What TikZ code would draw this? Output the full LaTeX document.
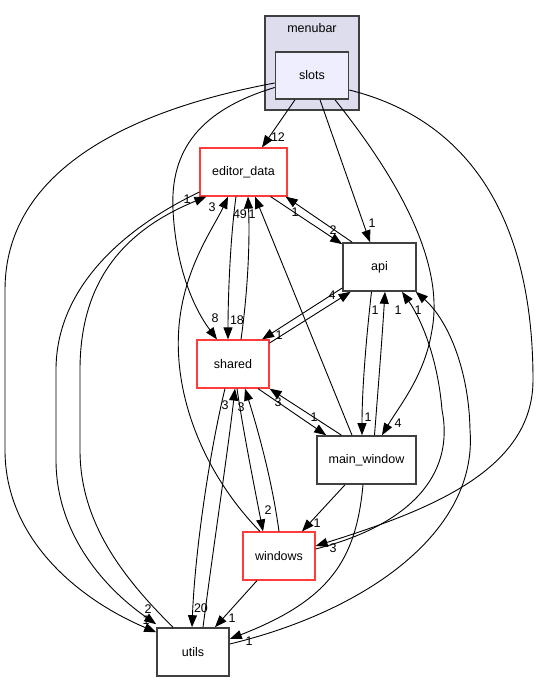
\documentclass[tikz,border=0pt]{standalone}
\usepackage{fontspec}
\setmainfont{Liberation Sans}
\usetikzlibrary{arrows.meta}
\definecolor{clusterfill}{HTML}{DDDDEE}
\definecolor{slotsfill}{HTML}{EEEEFF}
\definecolor{frame}{HTML}{404040}
\definecolor{truncred}{HTML}{FF3C3C}
\begin{document}
\begin{tikzpicture}[x=1pt,y=-1pt,
  font=\fontsize{12.5}{15}\selectfont,
  dirbox/.style={draw=frame,line width=1.6pt,fill=white,minimum width=#1,minimum height=48pt,inner sep=0pt},
  truncbox/.style={draw=truncred,line width=1.2pt,fill=white,minimum width=#1,minimum height=48pt,inner sep=0pt},
  dep/.style={-{Triangle[length=12pt,width=9pt]},line width=0.9pt},
  lbl/.style={inner sep=0pt}]
  \useasboundingbox (0,0) rectangle (539,681);

  %menubar cluster
  \node[draw=frame,line width=1.2pt,fill=clusterfill,minimum width=94pt,minimum height=94pt,inner sep=0pt] (menubar) at (312,63) {};
  \node (menubartitle) at (312,28) {menubar};
  \node[draw=frame,line width=1.6pt,fill=slotsfill,minimum width=73pt,minimum height=47pt,inner sep=0pt] (slots) at (312,75.5) {slots};

  %Directories
  \node[truncbox=87pt] (editordata) at (243.5,172) {editor\_data};
  \node[dirbox=73pt] (api) at (379.5,267) {api};
  \node[truncbox=72pt] (shared) at (233,364) {shared};
  \node[dirbox=99pt] (mainwindow) at (366.5,460) {main\_window};
  \node[truncbox=72pt] (windows) at (279,556) {windows};
  \node[dirbox=72pt] (utils) at (193,652) {utils};

  %From slots
  \draw[dep] ([xshift=-17pt]slots.south) -- ([xshift=18.5pt]editordata.north);
  \node[lbl] (l-slots-ed) at (278,137) {12};
  \draw[dep] ([xshift=8pt]slots.south) -- ([xshift=-9.5pt]api.north);
  \node[lbl] (l-slots-api) at (372,223) {1};
  \draw[dep] ([xshift=23pt]slots.south) .. controls (395,175) and (445,260) .. (432,330)
    .. controls (425,375) and (400,405) .. ([xshift=15.5pt]mainwindow.north);
  \node[lbl] (l-slots-mw) at (398,423) {4};
  \draw[dep] ([yshift=-14.5pt]slots.east) .. controls (470,120) and (533,220) .. (533,380)
    .. controls (533,470) and (430,510) .. ([yshift=10pt]windows.east);
  \node[lbl] (l-slots-win) at (333,548) {3};
  \draw[dep] ([yshift=-12pt]slots.west) .. controls (200,110) and (170,150) .. (173,210)
    .. controls (176,270) and (195,310) .. ([xshift=-16pt]shared.north);
  \node[lbl] (l-slots-sh) at (215,318) {8};
  \draw[dep] ([yshift=-7.5pt]slots.west) .. controls (130,110) and (5,170) .. (5,290) -- (5,450)
    .. controls (5,540) and (80,600) .. ([yshift=-5pt]utils.north west);
  \node[lbl] (l-slots-ut) at (146,620) {1};

  %editor_data
  \draw[dep] ([xshift=-7.5pt]editordata.south) .. controls (230,240) and (228,300) .. ([xshift=-5pt]shared.north);
  \node[lbl] (l-ed-sh) at (237,320) {18};
  \draw[dep] ([xshift=-17pt]editordata.south east) -- ([yshift=-2pt]api.north west);
  \node[lbl] (l-ed-api) at (333,230) {2};
  \draw[dep] ([yshift=-20pt]editordata.west) .. controls (120,230) and (56,290) .. (56,370) -- (56,460)
    .. controls (56,530) and (100,585) .. ([yshift=3pt]utils.north west);
  \node[lbl] (l-ed-ut) at (148,609) {2};

  %api
  \draw[dep] ([xshift=10pt]api.north west) -- ([xshift=-2pt]editordata.south east);
  \node[lbl] (l-api-ed) at (295,212) {1};
  \draw[dep] ([yshift=-21pt]api.west) -- ([xshift=-7.5pt]shared.north east);
  \node[lbl] (l-api-sh) at (279,335) {1};
  \draw[dep] ([xshift=-8pt]api.south) .. controls (366,340) and (362,390) .. ([xshift=-4.5pt]mainwindow.north);
  \node[lbl] (l-api-mw) at (368,417) {1};

  %shared
  \draw[dep] ([xshift=8pt]shared.north) .. controls (248,290) and (250,240) .. ([xshift=4.5pt]editordata.south);
  \node[lbl] (l-sh-ed) at (240,214) {49};
  \draw[dep] ([yshift=21pt]shared.east) -- ([xshift=8.5pt]api.south west);
  \node[lbl] (l-sh-api) at (332,295) {4};
  \draw[dep] ([xshift=25pt]shared.south) -- ([xshift=10pt]mainwindow.north west);
  \node[lbl] (l-sh-mw) at (314,417) {1};
  \draw[dep] ([xshift=4pt]shared.south) .. controls (243,430) and (255,490) .. ([xshift=-16pt]windows.north);
  \node[lbl] (l-sh-win) at (268,510) {2};
  \draw[dep] ([xshift=-8pt]shared.south) .. controls (210,450) and (195,550) .. ([xshift=-1pt]utils.north);
  \node[lbl] (l-sh-ut) at (201,608) {20};

  %main_window
  \draw[dep] ([xshift=-14.5pt]mainwindow.north) -- ([xshift=11.5pt]editordata.south);
  \node[lbl] (l-mw-ed) at (252,214) {1};
  \draw[dep] ([xshift=-25pt]mainwindow.north) -- (shared.south east);
  \node[lbl] (l-mw-sh) at (278,402) {3};
  \draw[dep] ([xshift=8pt]mainwindow.north) .. controls (378,390) and (382,340) .. ([xshift=5.5pt]api.south);
  \node[lbl] (l-mw-api) at (375,310) {1};
  \draw[dep] ([xshift=-21.5pt]mainwindow.south) -- ([xshift=23pt]windows.north);
  \node[lbl] (l-mw-win) at (317,523) {1};
  \draw[dep] ([xshift=-3.5pt]mainwindow.south) .. controls (356,560) and (330,600) .. ([yshift=13pt]utils.east);
  \node[lbl] (l-mw-ut) at (249,641) {1};

  %windows
  \draw[dep] ([xshift=-19pt]windows.north) .. controls (200,470) and (165,380) .. (183,300)
    .. controls (193,255) and (215,225) .. ([xshift=-15.5pt]editordata.south);
  \node[lbl] (l-win-ed) at (212,207) {3};
  \draw[dep] (windows.north) .. controls (272,480) and (258,430) .. ([xshift=12pt]shared.south);
  \node[lbl] (l-win-sh) at (241,407) {3};
  \draw[dep] ([yshift=7pt]windows.east) .. controls (410,525) and (455,475) .. (442,410)
    .. controls (438,360) and (422,320) .. ([xshift=22.5pt]api.south);
  \node[lbl] (l-win-api) at (398,310) {1};
  \draw[dep] ([xshift=-22pt]windows.south) -- ([xshift=22pt]utils.north);
  \node[lbl] (l-win-ut) at (232,618) {1};

  %utils
  \draw[dep] ([xshift=-20pt]utils.north) .. controls (120,575) and (80,520) .. (80,450) -- (80,370)
    .. controls (80,280) and (125,230) .. ([xshift=7pt]editordata.south west);
  \node[lbl] (l-ut-ed) at (187,199) {1};
  \draw[dep] ([xshift=10pt]utils.north) .. controls (213,550) and (228,450) .. ([xshift=2pt]shared.south);
  \node[lbl] (l-ut-sh) at (225,405) {3};
  \draw[dep] ([yshift=8pt]utils.east) .. controls (370,610) and (478,530) .. (470,430)
    .. controls (469,370) and (448,320) .. ([xshift=-1pt]api.south east);
  \node[lbl] (l-ut-api) at (418,310) {1};
\end{tikzpicture}
\end{document}
